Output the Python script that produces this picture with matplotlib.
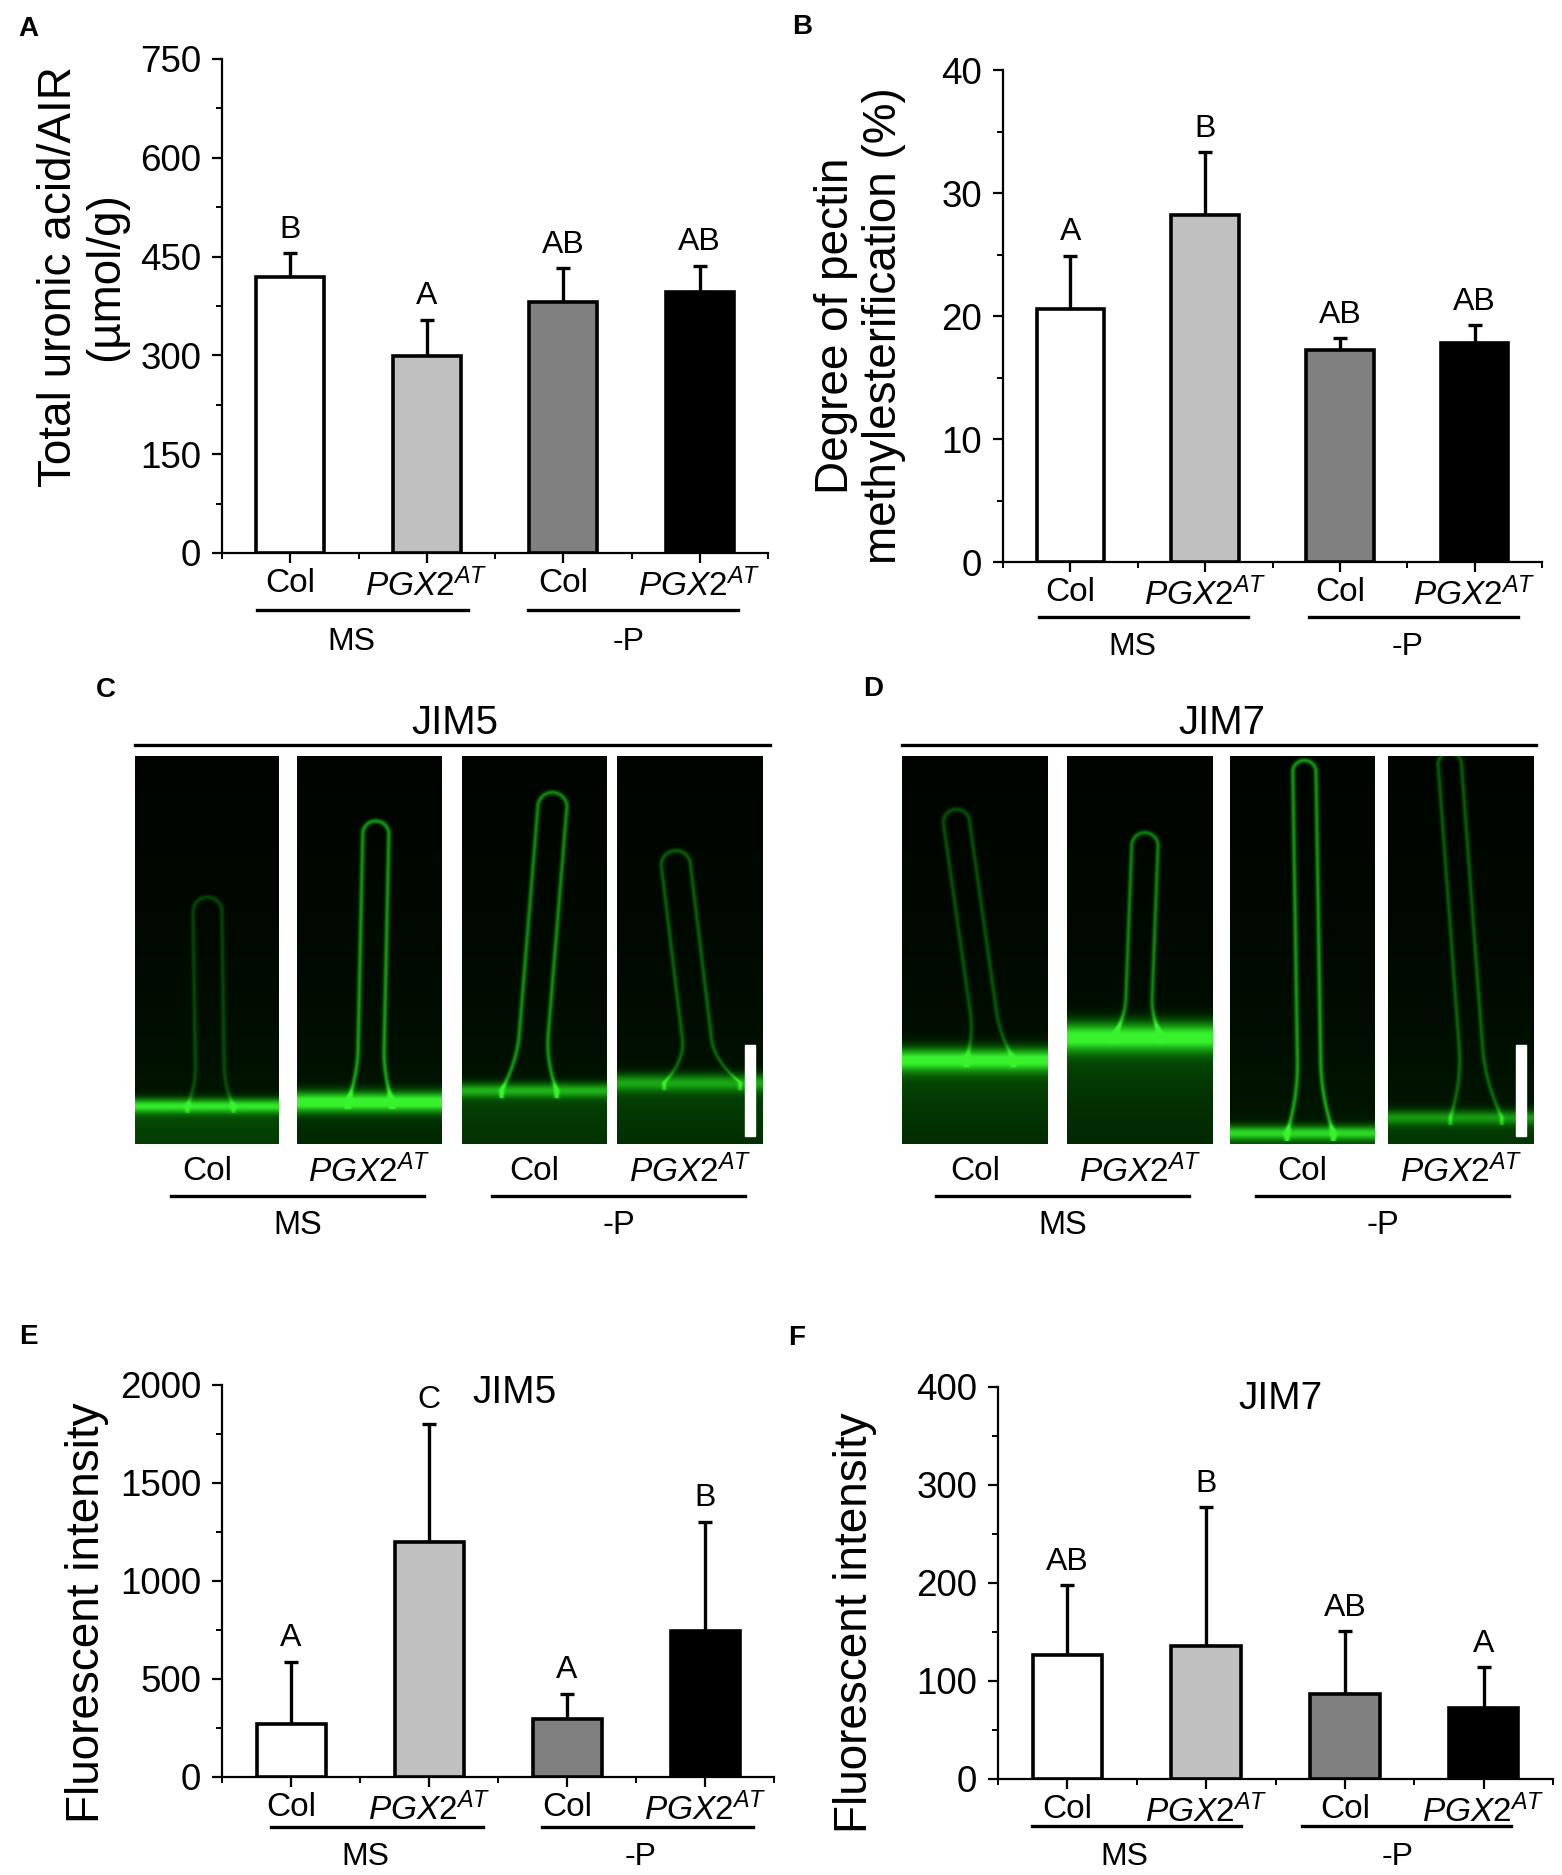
import numpy as np
import matplotlib
matplotlib.use("Agg")
import matplotlib.pyplot as plt
from matplotlib.ticker import MultipleLocator
from matplotlib.patches import Rectangle

plt.rcParams['font.family'] = ['Liberation Sans', 'DejaVu Sans']
plt.rcParams['mathtext.fontset'] = 'custom'
plt.rcParams['mathtext.rm'] = 'Liberation Sans'
plt.rcParams['mathtext.it'] = 'Liberation Sans:italic'
plt.rcParams['mathtext.bf'] = 'Liberation Sans:bold'

# ---- data ----
genotypes = ['Col', r'$\mathit{PGX2}^{\mathit{AT}}$', 'Col', r'$\mathit{PGX2}^{\mathit{AT}}$']
conditions = ['MS', '-P']
bar_colors = ['white', '#c0c0c0', '#808080', 'black']

uronic = [419, 299, 381, 396]
uronic_err = [36, 55, 51, 40]
uronic_sig = ['B', 'A', 'AB', 'AB']

dme = [20.6, 28.25, 17.2, 17.8]
dme_err = [4.3, 5.05, 1.0, 1.46]
dme_sig = ['A', 'B', 'AB', 'AB']

jim5 = [272, 1200, 294, 745]
jim5_err = [316, 603, 131, 558]
jim5_sig = ['A', 'C', 'A', 'B']

jim7 = [127, 136, 86.5, 72.7]
jim7_err = [71, 141.5, 64.5, 41.3]
jim7_sig = ['AB', 'B', 'AB', 'A']

W, H = 1562, 1875
fig = plt.figure(figsize=(W / 100, H / 100), dpi=100)


def px_axes(x0, y0, x1, y1):
    return fig.add_axes([x0 / W, 1 - y1 / H, (x1 - x0) / W, (y1 - y0) / H])


def bar_panel(ax, vals, errs, sig, ymax, major, ylabel, ylab_xy, line_y, text_y,
              spans, group_x, title=None, title_xy=None):
    x = np.arange(1, 5)
    ax.bar(x, vals, width=0.5, color=bar_colors, edgecolor='black', linewidth=2.6, zorder=3)
    ax.errorbar(x, vals, yerr=[np.zeros(4), errs], fmt='none', ecolor='black',
                elinewidth=2.4, capsize=4.7, capthick=2.4, zorder=2)
    for xi, v, e, s in zip(x, vals, errs, sig):
        ax.annotate(s, (xi, v + e), xytext=(0, 6), textcoords='offset points',
                    ha='center', va='bottom', fontsize=23)
    ax.set_xlim(0.5, 4.5)
    ax.set_ylim(0, ymax)
    ax.yaxis.set_major_locator(MultipleLocator(major))
    ax.yaxis.set_minor_locator(MultipleLocator(major / 2))
    ax.set_xticks(x)
    ax.set_xticklabels(genotypes)
    ax.set_xticks([0.5, 1.5, 2.5, 3.5, 4.5], minor=True)
    ax.tick_params(axis='y', which='major', length=7, width=1.6, pad=8, labelsize=26.5)
    ax.tick_params(axis='y', which='minor', length=4, width=1.4)
    ax.tick_params(axis='x', which='major', length=7, width=1.6, pad=4, labelsize=24)
    ax.tick_params(axis='x', which='minor', length=4, width=1.4)
    for side in ['top', 'right']:
        ax.spines[side].set_visible(False)
    for side in ['left', 'bottom']:
        ax.spines[side].set_linewidth(1.6)
    ax.set_ylabel(ylabel, fontsize=33, linespacing=1.1, ha='center', va='center')
    ax.yaxis.set_label_coords(*ylab_xy)
    tr = ax.get_xaxis_transform()
    for (a, b), gx, name in zip(spans, group_x, conditions):
        ax.plot([a, b], [line_y, line_y], color='black', lw=2.4, transform=tr, clip_on=False)
        ax.text(gx, text_y, name, transform=tr, ha='center', va='center', fontsize=23)
    if title:
        ax.text(*title_xy, title, transform=ax.transAxes, ha='center', va='center', fontsize=28)


# Panel A
axA = px_axes(222, 59, 768, 553)
bar_panel(axA, uronic, uronic_err, uronic_sig, 750, 150,
          'Total uronic acid/AIR\n(µmol/g)', (-0.255, 0.56), -0.115, -0.18,
          [(0.76, 2.3), (2.74, 4.28)], [1.45, 3.48])

# Panel B
axB = px_axes(1003, 70, 1542, 562)
bar_panel(axB, dme, dme_err, dme_sig, 40, 10,
          'Degree of pectin\nmethylesterification (%)', (-0.265, 0.48), -0.112, -0.173,
          [(0.77, 2.32), (2.77, 4.32)], [1.46, 3.5])

# Panel E
axE = px_axes(222, 1385, 774, 1777)
bar_panel(axE, jim5, jim5_err, jim5_sig, 2000, 500,
          'Fluorescent intensity', (-0.245, 0.42), -0.128, -0.204,
          [(0.855, 2.39), (2.82, 4.35)], [1.54, 3.53],
          title='JIM5', title_xy=(0.53, 0.98))

# Panel F
axF = px_axes(998, 1387, 1553, 1779)
bar_panel(axF, jim7, jim7_err, jim7_sig, 400, 100,
          'Fluorescent intensity', (-0.258, 0.40), -0.12, -0.2,
          [(0.745, 2.25), (2.69, 4.2)], [1.41, 3.38],
          title='JIM7', title_xy=(0.51, 0.97))


# ---- micrograph panels (illustrative sketches of the root hair images) ----
def micrograph(p, h=390, w=146):
    v, u = np.mgrid[0:h, 0:w].astype(float)
    v /= h
    u /= w
    asp = h / w
    t = np.clip((v - p['tip']) / (p['base'] - p['tip']), 0, 1)
    cx = p['x_tip'] + (p['x_base'] - p['x_tip']) * t
    hw = p['hw'] * (1 + p['flare'] * np.clip((t - 0.8) / 0.2, 0, 1) ** 2)
    inside = (v >= p['tip']) & (v <= p['base'] + 0.02)
    walls = np.exp(-((np.abs(u - cx) - hw) / 0.016) ** 2) * inside
    cap = np.hypot(u - p['x_tip'], (v - p['tip']) * asp) - p['hw']
    walls = walls + np.exp(-(cap / 0.016) ** 2) * (v < p['tip'])
    dv = (v - p['base']) * asp
    band = p['band'] * np.exp(-(dv / p['band_w']) ** 2)
    below = p['below'] * (1 / (1 + np.exp(-dv / 0.03))) * np.exp(-np.clip(dv, 0, None) / 0.5)
    bg = 0.02 + 0.08 * v ** 2
    inten = bg + p['wall'] * walls + band + below
    inten = np.clip(inten, 0, 1)
    rgb = np.dstack([0.22 * inten ** 2, 0.95 * inten, 0.18 * inten ** 2])
    return np.clip(rgb, 0, 1)


jim5_imgs = [
    dict(tip=0.40, base=0.90, x_tip=0.50, x_base=0.52, hw=0.10, flare=0.6, wall=0.25,
         band=0.75, band_w=0.05, below=0.25),
    dict(tip=0.20, base=0.89, x_tip=0.54, x_base=0.50, hw=0.09, flare=0.7, wall=0.60,
         band=0.95, band_w=0.07, below=0.12),
    dict(tip=0.13, base=0.86, x_tip=0.62, x_base=0.46, hw=0.10, flare=0.9, wall=0.55,
         band=0.55, band_w=0.05, below=0.22),
    dict(tip=0.28, base=0.84, x_tip=0.40, x_base=0.58, hw=0.10, flare=1.6, wall=0.35,
         band=0.50, band_w=0.06, below=0.22),
]
jim7_imgs = [
    dict(tip=0.17, base=0.78, x_tip=0.37, x_base=0.60, hw=0.09, flare=0.8, wall=0.30,
         band=0.85, band_w=0.08, below=0.28),
    dict(tip=0.23, base=0.72, x_tip=0.53, x_base=0.48, hw=0.09, flare=0.8, wall=0.50,
         band=0.85, band_w=0.10, below=0.30),
    dict(tip=0.04, base=0.97, x_tip=0.51, x_base=0.55, hw=0.08, flare=1.0, wall=0.60,
         band=0.70, band_w=0.05, below=0.20),
    dict(tip=0.02, base=0.93, x_tip=0.42, x_base=0.60, hw=0.08, flare=1.2, wall=0.35,
         band=0.45, band_w=0.05, below=0.18),
]

rows = [
    ([(135, 279), (297, 442), (462, 607), (617, 763)], jim5_imgs),
    ([(902, 1048), (1067, 1213), (1230, 1375), (1388, 1534)], jim7_imgs),
]
for boxes, params in rows:
    for k, ((x0, x1), p) in enumerate(zip(boxes, params)):
        ax = px_axes(x0, 756, x1, 1144)
        ax.imshow(micrograph(p), aspect='auto', extent=[0, 1, 1, 0], interpolation='bilinear')
        ax.set_xlim(0, 1)
        ax.set_ylim(1, 0)
        ax.axis('off')
        if k == 3:
            ax.add_patch(Rectangle((0.88, 0.745), 0.065, 0.235, color='white', zorder=5))

# ---- overlay for panel letters and C/D annotations (pixel coordinates) ----
ov = fig.add_axes([0, 0, 1, 1])
ov.set_xlim(0, W)
ov.set_ylim(H, 0)
ov.axis('off')

for letter, (lx, ly) in zip('ABCDEF', [(28, 29), (802, 27), (106, 690), (873, 689),
                                       (28, 1337), (797, 1338)]):
    ov.text(lx, ly, letter, fontsize=20, fontweight='bold', ha='center', va='center')

cd_layout = [
    ('JIM5', 455, (135, 770), [(171, 424), (492, 745)], [(135, 279), (297, 442), (462, 607), (617, 763)]),
    ('JIM7', 1222, (902, 1536), [(936, 1189), (1256, 1509)], [(902, 1048), (1067, 1213), (1230, 1375), (1388, 1534)]),
]
for name, tx, (lx0, lx1), spans, boxes in cd_layout:
    ov.text(tx, 723, name, fontsize=29, ha='center', va='center')
    ov.plot([lx0, lx1], [745, 745], color='black', lw=2.4)
    for (x0, x1), g in zip(boxes, genotypes):
        ov.text((x0 + x1) / 2, 1172, g, fontsize=24, ha='center', va='center')
    for (a, b), cond in zip(spans, conditions):
        ov.plot([a, b], [1196, 1196], color='black', lw=2.4)
        ov.text((a + b) / 2, 1225, cond, fontsize=23.5, ha='center', va='center')

fig.savefig('out.png', dpi=100)
